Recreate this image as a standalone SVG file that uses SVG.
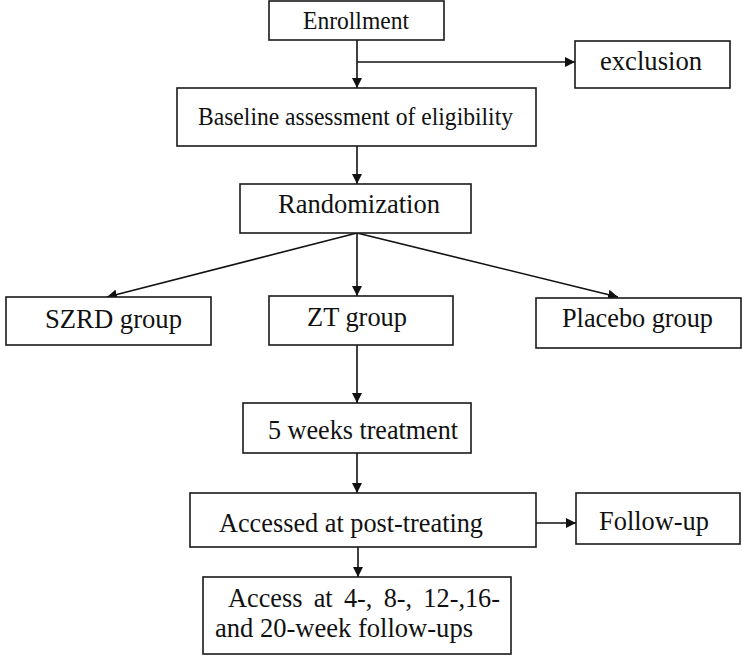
<svg xmlns="http://www.w3.org/2000/svg" width="742" height="658" viewBox="0 0 742 658">
<style>
.box{fill:#fff;stroke:#1a1a1a;stroke-width:1.6}
.t{font-family:"Liberation Serif","Times New Roman",serif;font-size:28px;fill:#111}
.s{font-size:24.5px}
.c{stroke:#111;stroke-width:1.6;fill:none;marker-end:url(#ah)}
</style>
<defs>
<marker id="ah" markerUnits="userSpaceOnUse" markerWidth="10" markerHeight="10" viewBox="0 0 10 10" refX="10" refY="5" orient="auto">
<path d="M0,0 L10,5 L0,10 z" fill="#111"/>
</marker>
</defs>
<rect width="742" height="658" fill="#fff"/>
<g id="connectors">
<line class="c" x1="357" y1="40" x2="357" y2="88"/>
<line class="c" x1="357" y1="62" x2="575" y2="62"/>
<line class="c" x1="357" y1="146" x2="357" y2="184"/>
<line class="c" x1="357" y1="233" x2="107" y2="297"/>
<line class="c" x1="357" y1="233" x2="357" y2="296"/>
<line class="c" x1="357" y1="233" x2="618" y2="297"/>
<line class="c" x1="357" y1="345" x2="357" y2="403"/>
<line class="c" x1="357" y1="453" x2="357" y2="493"/>
<line class="c" x1="536" y1="523" x2="576" y2="523"/>
<line class="c" x1="358" y1="547" x2="358" y2="577"/>
</g>
<g id="enrollment"><rect class="box" x="269" y="1" width="175" height="39"/><text class="t s" x="303" y="29" textLength="106" lengthAdjust="spacingAndGlyphs">Enrollment</text></g>
<g id="exclusion"><rect class="box" x="575" y="41" width="155" height="47"/><text class="t" x="600" y="70" textLength="102" lengthAdjust="spacingAndGlyphs">exclusion</text></g>
<g id="baseline"><rect class="box" x="177" y="88" width="359" height="58"/><text class="t s" x="198" y="125" textLength="315" lengthAdjust="spacingAndGlyphs">Baseline assessment of eligibility</text></g>
<g id="randomization"><rect class="box" x="240" y="184" width="231" height="49"/><text class="t" x="278" y="213" textLength="162" lengthAdjust="spacingAndGlyphs">Randomization</text></g>
<g id="szrd"><rect class="box" x="6" y="297" width="205" height="48"/><text class="t" x="45" y="328" textLength="137" lengthAdjust="spacingAndGlyphs">SZRD group</text></g>
<g id="zt"><rect class="box" x="269" y="296" width="184" height="49"/><text class="t" x="307" y="326" textLength="100" lengthAdjust="spacingAndGlyphs">ZT group</text></g>
<g id="placebo"><rect class="box" x="536" y="298" width="205" height="50"/><text class="t" x="562" y="327" textLength="151" lengthAdjust="spacingAndGlyphs">Placebo group</text></g>
<g id="treatment"><rect class="box" x="243" y="403" width="228" height="50"/><text class="t" x="268" y="439" textLength="190" lengthAdjust="spacingAndGlyphs">5 weeks treatment</text></g>
<g id="accessed"><rect class="box" x="190" y="493" width="346" height="54"/><text class="t" x="219" y="532" textLength="264" lengthAdjust="spacingAndGlyphs">Accessed at post-treating</text></g>
<g id="followup"><rect class="box" x="576" y="493" width="164" height="51"/><text class="t" x="599" y="530" textLength="110" lengthAdjust="spacingAndGlyphs">Follow-up</text></g>
<g id="access"><rect class="box" x="203" y="577" width="308" height="77"/><text class="t" x="228" y="607" word-spacing="5" textLength="272" lengthAdjust="spacingAndGlyphs">Access at 4-, 8-, 12-,16-</text><text class="t" x="215" y="637" textLength="258" lengthAdjust="spacingAndGlyphs">and 20-week follow-ups</text></g>
</svg>
